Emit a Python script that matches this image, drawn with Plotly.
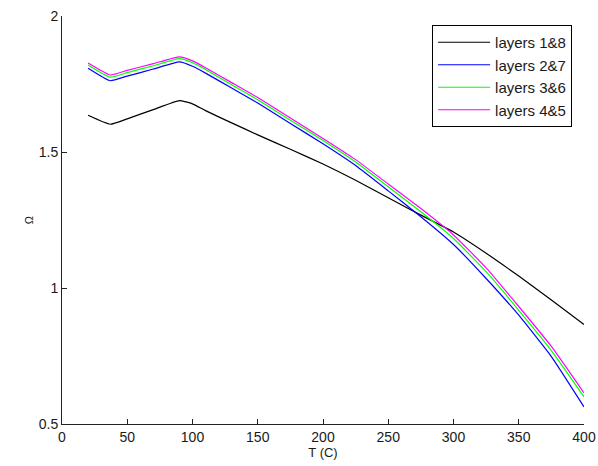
import plotly.graph_objects as go

T = [20, 37, 50, 70, 90, 100, 110, 130, 150, 175, 200, 225, 250, 275, 300, 325, 350, 375, 400]

layers_1_8 = [1.635, 1.602, 1.622, 1.656, 1.689, 1.677, 1.652, 1.607, 1.563, 1.510, 1.456, 1.396, 1.332, 1.268, 1.206, 1.128, 1.044, 0.956, 0.866]
layers_2_7 = [1.808, 1.762, 1.779, 1.805, 1.831, 1.815, 1.790, 1.735, 1.680, 1.605, 1.530, 1.450, 1.357, 1.262, 1.160, 1.035, 0.900, 0.748, 0.563]
layers_3_6 = [1.820, 1.775, 1.792, 1.817, 1.843, 1.828, 1.803, 1.747, 1.692, 1.617, 1.542, 1.463, 1.372, 1.280, 1.182, 1.060, 0.918, 0.770, 0.600]
layers_4_5 = [1.827, 1.783, 1.800, 1.825, 1.850, 1.835, 1.810, 1.755, 1.700, 1.625, 1.550, 1.472, 1.382, 1.292, 1.195, 1.074, 0.932, 0.785, 0.614]

names = ["layers 1&8", "layers 2&7", "layers 3&6", "layers 4&5"]
colors = ["#000000", "#0000ff", "#00ff00", "#ff00ff"]
series = [layers_1_8, layers_2_7, layers_3_6, layers_4_5]

x_ticks = [0, 50, 100, 150, 200, 250, 300, 350, 400]
y_ticks = [0.5, 1, 1.5, 2]
y_tick_labels = ["0.5", "1", "1.5", "2"]

fig = go.Figure()
for name, color, vals in zip(names, colors, series):
    fig.add_trace(go.Scatter(x=T, y=vals, mode="lines", name=name,
                             line=dict(color=color, width=1.2, shape="spline", smoothing=0.4)))

fig.update_layout(
    width=598, height=466,
    margin=dict(l=62, r=14, t=16, b=42),
    paper_bgcolor="white", plot_bgcolor="white",
    font=dict(family="Liberation Sans, Arial, sans-serif", size=14, color="#1a1a1a"),
    legend=dict(x=0.709, y=0.978, xanchor="left", yanchor="top",
                bordercolor="#000000", borderwidth=1, bgcolor="white",
                font=dict(size=15), tracegroupgap=0, itemwidth=52),
    showlegend=True,
)
fig.update_xaxes(range=[0, 400], tickvals=x_ticks, ticks="inside", ticklen=5,
                 showline=True, linecolor="#222222", linewidth=1, tickcolor="#222222",
                 showgrid=False, zeroline=False, automargin=False,
                 title=dict(text="T (C)", font=dict(size=13), standoff=2))
fig.update_yaxes(range=[0.5, 2], tickvals=y_ticks, ticktext=y_tick_labels, ticks="inside", ticklen=5,
                 showline=True, linecolor="#222222", linewidth=1, tickcolor="#222222",
                 showgrid=False, zeroline=False, automargin=False,
                 title=dict(text="Ω", font=dict(size=11), standoff=2))

fig.write_html("out.html", config={"displayModeBar": False},
               post_script="document.body.style.margin='0px';")
